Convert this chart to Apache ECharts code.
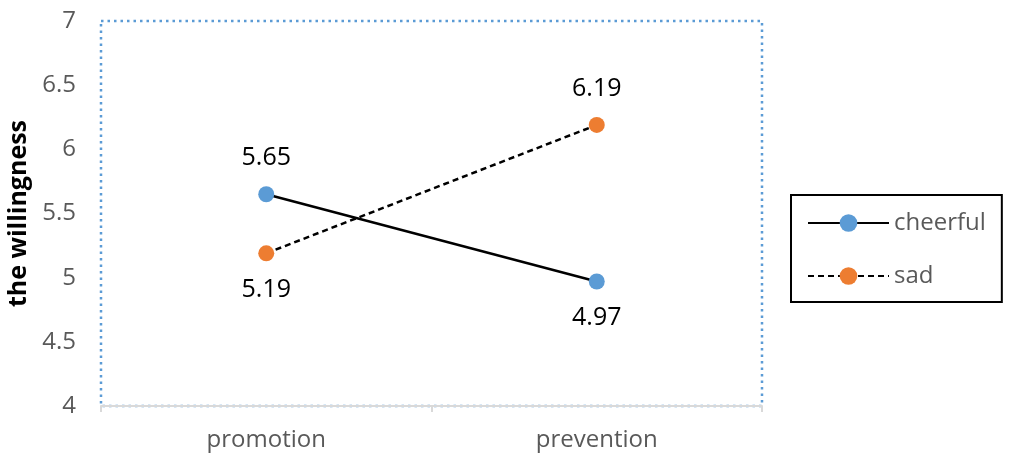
<!DOCTYPE html>
<html><head><meta charset="utf-8">
<script src="https://cdn.jsdelivr.net/npm/echarts@6/dist/echarts.min.js"></script>
<style>html,body{margin:0;padding:0;background:#fff}#c{width:1010px;height:461px}</style>
</head><body><div id="c"></div>
<script>
var categories = ['promotion', 'prevention'];
var cheerful = [5.65, 4.97];
var sad = [5.19, 6.19];
var cheerfulLabelPos = ['top', 'bottom'];
var sadLabelPos = ['bottom', 'top'];
var yTicks = [4, 4.5, 5, 5.5, 6, 6.5, 7];

var font = 'Open Sans';
function mk(vals, pos) {
  return vals.map(function (v, i) { return { value: v, label: { position: pos[i] } }; });
}
var chart = echarts.init(document.getElementById('c'));
chart.setOption({
  animation: false,
  textStyle: { fontFamily: font },
  grid: { left: 101, right: 248, top: 21, bottom: 55, outerBoundsMode: 'none', containLabel: false,
    show: true, borderColor: '#5B9BD5', borderWidth: 2.5, borderType: [2.5, 4] },
  legend: {
    orient: 'vertical', left: 791, top: 195,
    itemWidth: 81, itemHeight: 22, itemGap: 29,
    padding: [16, 16, 14, 16],
    borderColor: '#000', borderWidth: 2,
    textStyle: { fontSize: 24, color: '#595959', fontFamily: font },
    data: ['cheerful', 'sad']
  },
  xAxis: {
    type: 'category', data: categories, boundaryGap: true,
    axisLine: { lineStyle: { color: '#d9d9d9', width: 2 } },
    axisTick: { show: true, length: 6, lineStyle: { color: '#d9d9d9', width: 2 } },
    axisLabel: { fontSize: 24, color: '#595959', margin: 22, fontFamily: font }
  },
  yAxis: {
    type: 'value', min: 4, max: 7, interval: 0.5,
    name: 'the willingness', nameLocation: 'middle', nameGap: 68,
    nameTextStyle: { fontSize: 25, fontWeight: 'bold', color: '#000', fontFamily: font },
    axisLine: { show: false }, axisTick: { show: false },
    splitLine: { show: false },
    axisLabel: { fontSize: 24, color: '#595959', margin: 25, fontFamily: font,
      formatter: function (v) { return yTicks.indexOf(v) >= 0 ? String(v) : ''; } }
  },
  series: [
    {
      name: 'cheerful', type: 'line', data: mk(cheerful, cheerfulLabelPos),
      symbol: 'circle', symbolSize: 16,
      itemStyle: { color: '#5B9BD5' },
      lineStyle: { color: '#000', width: 2.5 },
      label: { show: true, fontSize: 25, color: '#000', distance: 16, fontFamily: font }
    },
    {
      name: 'sad', type: 'line', data: mk(sad, sadLabelPos),
      symbol: 'circle', symbolSize: 16,
      itemStyle: { color: '#ED7D31' },
      lineStyle: { color: '#000', width: 2.5, type: [6, 4] },
      label: { show: true, fontSize: 25, color: '#000', distance: 16, fontFamily: font }
    }
  ]
});
</script></body></html>
